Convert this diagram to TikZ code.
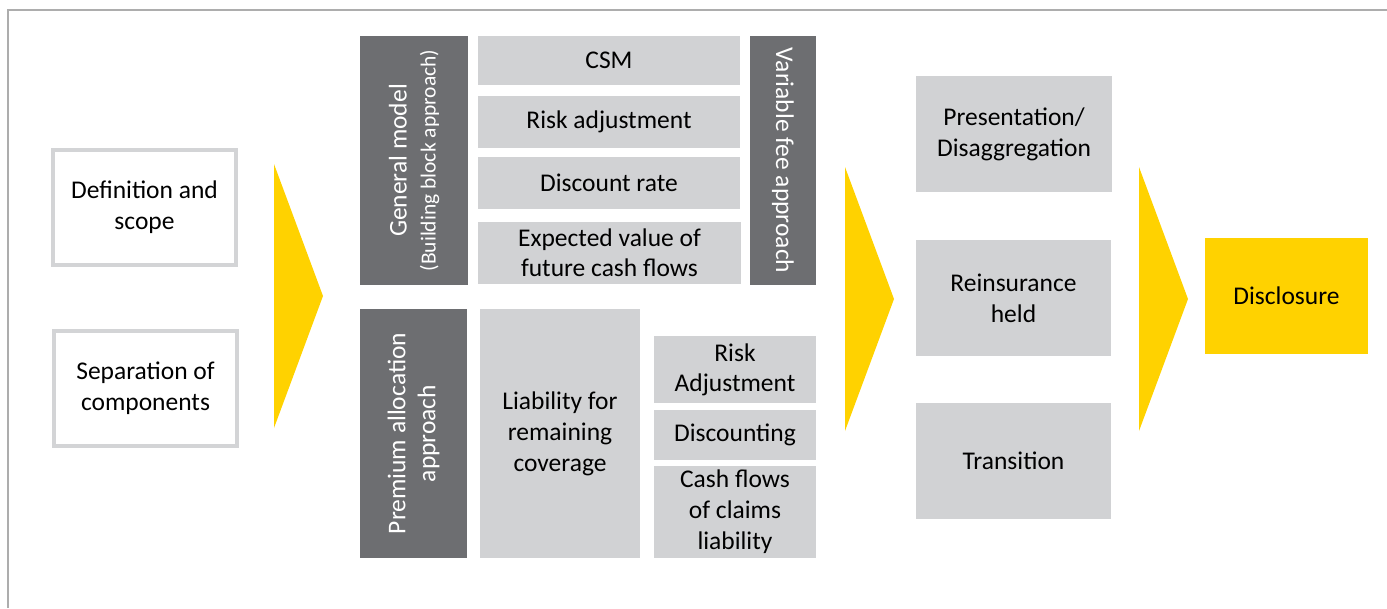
\documentclass[tikz,border=0pt]{standalone}
\usepackage{fontspec}
\setmainfont{Carlito}
\definecolor{eyyellow}{HTML}{FFD200}
\definecolor{lgray}{HTML}{D1D2D4}
\definecolor{dgray}{HTML}{6D6E71}
\definecolor{bgray}{HTML}{D3D4D6}
\definecolor{fgray}{HTML}{ADADAD}
\tikzset{
  txt/.style={font=\fontsize{25.5}{31}\selectfont, align=center, inner sep=0pt},
  whitebox/.style={txt, draw=bgray, line width=4pt, fill=white},
  graybox/.style={txt, fill=lgray, text=black},
  darkbox/.style={txt, fill=dgray, text=white},
  yellowbox/.style={txt, fill=eyyellow, text=black},
  chevron/.style={fill=eyyellow, draw=none},
  frameline/.style={draw=fgray, line width=2pt}
}
\begin{document}
\begin{tikzpicture}[x=1pt, y=-1pt]
\useasboundingbox (0,0) rectangle (1387,608);
% outer frame
\draw[frameline] (8,608) -- (8,10) -- (1387,10);
% left column
\node[whitebox, minimum width=183, minimum height=115] (def) at (144.5,207.5) {Definition and\\scope};
\node[whitebox, minimum width=183, minimum height=115] (sep) at (145.5,388.5) {Separation of\\components};
% chevron 1
\fill[chevron] (274,164) -- (323,296) -- (274,428) -- cycle;
% general model block
\node[darkbox, rotate=90, minimum width=249, minimum height=108, font=\fontsize{25.5}{29}\selectfont] (gm) at (414,160.5) {General model\\{\fontsize{21.5}{26}\selectfont (Building block approach)}};
\node[graybox, minimum width=262, minimum height=49] (csm) at (609,60.5) {CSM};
\node[graybox, minimum width=262, minimum height=52] (ra) at (609,122) {Risk adjustment};
\node[graybox, minimum width=262, minimum height=52] (dr) at (609,183) {Discount rate};
\node[graybox, minimum width=263, minimum height=62, font=\fontsize{25.5}{30}\selectfont] (ev) at (609.5,253) {Expected value of\\future cash flows};
\node[darkbox, rotate=-90, minimum width=249, minimum height=66] (vf) at (783,160.5) {Variable fee approach};
% premium allocation block
\node[darkbox, rotate=90, minimum width=249, minimum height=107, font=\fontsize{25.5}{30}\selectfont] (paa) at (413.5,433.5) {Premium allocation\\approach};
\node[graybox, minimum width=160, minimum height=249] (lrc) at (560,433.5) {Liability for\\remaining\\coverage};
\node[graybox, minimum width=162, minimum height=67, font=\fontsize{25.5}{30}\selectfont] (rA) at (735,369.5) {Risk\\Adjustment};
\node[graybox, minimum width=162, minimum height=50] (disc) at (735,435) {Discounting};
\node[graybox, minimum width=162, minimum height=92, font=\fontsize{25.5}{31}\selectfont] (cf) at (735,512) {Cash flows\\of claims\\liability};
% chevron 2
\fill[chevron] (845,167) -- (894,299) -- (845,431) -- cycle;
% right column
\node[graybox, minimum width=196, minimum height=116] (pres) at (1014,134) {Presentation/\\Disaggregation};
\node[graybox, minimum width=195, minimum height=116] (rein) at (1013.5,298) {Reinsurance\\held};
\node[graybox, minimum width=195, minimum height=116] (trans) at (1013.5,461) {Transition};
% chevron 3
\fill[chevron] (1139,167) -- (1188,299) -- (1139,431) -- cycle;
\node[yellowbox, minimum width=163, minimum height=116] (discl) at (1286.5,296) {Disclosure};
\end{tikzpicture}
\end{document}
